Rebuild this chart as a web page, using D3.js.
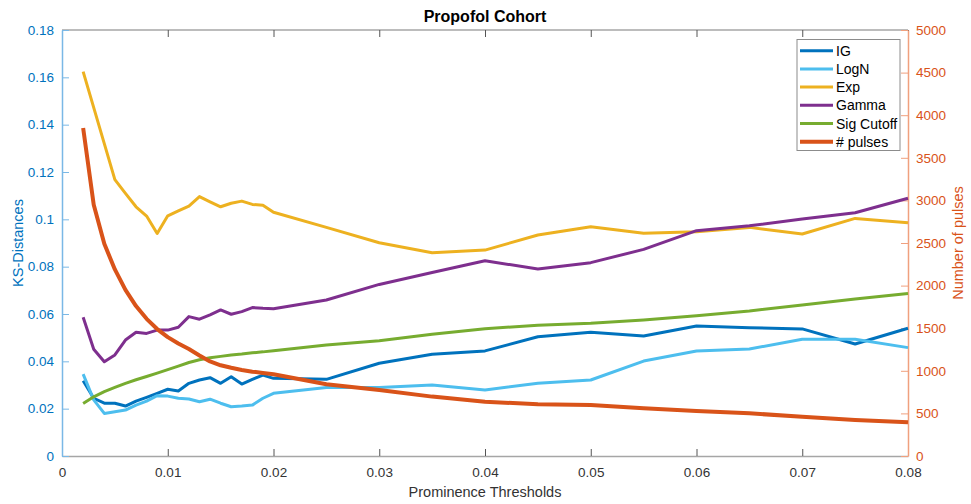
<!DOCTYPE html>
<html><head><meta charset="utf-8">
<script src="https://cdn.jsdelivr.net/npm/d3@7"></script>
<style>body{margin:0;background:#fff}svg{font-family:"Liberation Sans",Arial,sans-serif}</style>
</head><body><svg id="c" width="971" height="504"></svg>
<script>
const thresholds = [0.002,0.003,0.004,0.005,0.006,0.007,0.008,0.009,0.010,0.011,0.012,0.013,0.014,0.015,0.016,0.017,0.018,0.019,0.020,0.025,0.030,0.035,0.040,0.045,0.050,0.055,0.060,0.065,0.070,0.075,0.080];
const igValues = [0.0318,0.0244,0.0223,0.0223,0.0211,0.0232,0.0248,0.0265,0.0282,0.0275,0.0307,0.0321,0.0331,0.0307,0.0335,0.0304,0.0324,0.0342,0.0328,0.0324,0.0392,0.0430,0.0444,0.0504,0.0523,0.0507,0.0549,0.0542,0.0537,0.0473,0.0540];
const logNValues = [0.0346,0.0237,0.0180,0.0187,0.0194,0.0215,0.0232,0.0255,0.0253,0.0244,0.0241,0.0229,0.0240,0.0223,0.0208,0.0211,0.0215,0.0244,0.0265,0.0289,0.0289,0.0300,0.0279,0.0307,0.0321,0.0401,0.0444,0.0452,0.0493,0.0493,0.0458];
const expValues = [0.1624,0.1472,0.1320,0.1168,0.1110,0.1053,0.1014,0.0940,0.1015,0.1036,0.1056,0.1096,0.1074,0.1053,0.1068,0.1077,0.1063,0.1060,0.1030,0.0966,0.0901,0.0859,0.0870,0.0934,0.0969,0.0941,0.0948,0.0966,0.0938,0.1004,0.0986];
const gammaValues = [0.0586,0.0451,0.0398,0.0427,0.0490,0.0523,0.0518,0.0532,0.0532,0.0544,0.0589,0.0578,0.0596,0.0617,0.0599,0.0610,0.0627,0.0624,0.0622,0.0659,0.0725,0.0775,0.0825,0.0790,0.0817,0.0873,0.0952,0.0973,0.1001,0.1028,0.1089];
const sigCutoffValues = [0.0222,0.0250,0.0272,0.0290,0.0307,0.0322,0.0336,0.0350,0.0365,0.0380,0.0395,0.0407,0.0415,0.0421,0.0427,0.0431,0.0436,0.0440,0.0445,0.0469,0.0487,0.0514,0.0538,0.0552,0.0561,0.0575,0.0593,0.0613,0.0638,0.0663,0.0687];
const pulseCounts = [3850,2950,2490,2190,1950,1760,1610,1490,1395,1320,1255,1180,1110,1065,1035,1010,990,975,960,842,775,697,638,607,599,560,528,501,461,423,396];
const xTicks = [0,0.01,0.02,0.03,0.04,0.05,0.06,0.07,0.08];
const leftTicks = [0,0.02,0.04,0.06,0.08,0.1,0.12,0.14,0.16,0.18];
const rightTicks = [0,500,1000,1500,2000,2500,3000,3500,4000,4500,5000];
const seriesNames = ["IG","LogN","Exp","Gamma","Sig Cutoff","# pulses"];
const seriesColors = ["#0072BD","#4DBEEE","#EDB120","#7E2F8E","#77AC30","#D95319"];

const svg = d3.select("#c");
const L=62, R=908, T=30, B=456;
const x = d3.scaleLinear().domain([0,0.08]).range([L,R]);
const yL = d3.scaleLinear().domain([0,0.18]).range([B,T]);
const yR = d3.scaleLinear().domain([0,5000]).range([B,T]);
const leftColor="#0072BD", rightColor="#D95319";

svg.append("line").attr("x1",L).attr("x2",R).attr("y1",T).attr("y2",T).attr("stroke","#a6a6a6").attr("stroke-width",1.5);
const gx = svg.append("g").attr("transform",`translate(0,${B})`)
  .call(d3.axisBottom(x).tickValues(xTicks).tickFormat(d=>d===0?"0":d3.format(".2f")(d)).tickSizeInner(-7).tickSizeOuter(0).tickPadding(11));
gx.select(".domain").attr("stroke","#a6a6a6").attr("stroke-width",1.5);
gx.selectAll(".tick line").attr("stroke","#555");
gx.selectAll("text").attr("fill","#333").attr("font-size",13.5);
const gt = svg.append("g").attr("transform",`translate(0,${T})`)
  .call(d3.axisTop(x).tickValues(xTicks).tickFormat("").tickSizeInner(-7).tickSizeOuter(0));
gt.select(".domain").remove();
gt.selectAll(".tick line").attr("stroke","#555");

const gl = svg.append("g").attr("transform",`translate(${L},0)`)
  .call(d3.axisLeft(yL).tickValues(leftTicks).tickFormat(d=>d===0?"0":String(+d.toFixed(2))).tickSizeInner(-7).tickSizeOuter(0).tickPadding(8));
gl.select(".domain").attr("stroke","#7ab8e6").attr("stroke-width",1.5);
gl.selectAll(".tick line").attr("stroke","#7ab8e6");
gl.selectAll("text").attr("fill",leftColor).attr("font-size",13.5);

const gr = svg.append("g").attr("transform",`translate(${R},0)`)
  .call(d3.axisRight(yR).tickValues(rightTicks).tickFormat(d3.format("d")).tickSizeInner(-7).tickSizeOuter(0).tickPadding(8));
gr.select(".domain").attr("stroke","#f0a07e").attr("stroke-width",1.5);
gr.selectAll(".tick line").attr("stroke","#f0a07e");
gr.selectAll("text").attr("fill",rightColor).attr("font-size",13.5);

const leftSeries=[igValues,logNValues,expValues,gammaValues,sigCutoffValues];
const lineL = d3.line().x((d,i)=>x(thresholds[i])).y(d=>yL(d));
const lineR = d3.line().x((d,i)=>x(thresholds[i])).y(d=>yR(d));
const g = svg.append("g");
leftSeries.forEach((s,k)=>{
  g.append("path").datum(s).attr("d",lineL).attr("fill","none").attr("stroke",seriesColors[k]).attr("stroke-width",3).attr("stroke-linejoin","round");
});
g.append("path").datum(pulseCounts).attr("d",lineR).attr("fill","none").attr("stroke",seriesColors[5]).attr("stroke-width",4).attr("stroke-linejoin","round");

svg.append("text").attr("x",485).attr("y",22).attr("text-anchor","middle").attr("font-weight","bold").attr("font-size",16).attr("fill","#000").text("Propofol Cohort");
svg.append("text").attr("x",485).attr("y",497).attr("text-anchor","middle").attr("font-size",14.5).attr("fill","#333").text("Prominence Thresholds");
svg.append("text").attr("transform","translate(23,243) rotate(-90)").attr("text-anchor","middle").attr("font-size",14.5).attr("fill",leftColor).text("KS-Distances");
svg.append("text").attr("transform","translate(963,243) rotate(-90)").attr("text-anchor","middle").attr("font-size",14.5).attr("fill",rightColor).text("Number of pulses");

const lg = svg.append("g");
lg.append("rect").attr("x",797).attr("y",39.5).attr("width",103).attr("height",111).attr("fill","#fff").attr("stroke","#8c8c8c").attr("stroke-width",1);
seriesNames.forEach((n,i)=>{
  const yy = 50.7 + i*18.2;
  lg.append("line").attr("x1",800).attr("x2",833).attr("y1",yy).attr("y2",yy).attr("stroke",seriesColors[i]).attr("stroke-width",i===5?4:3);
  lg.append("text").attr("x",836).attr("y",yy+5).attr("font-size",14).attr("fill","#000").text(n);
});
</script></body></html>
